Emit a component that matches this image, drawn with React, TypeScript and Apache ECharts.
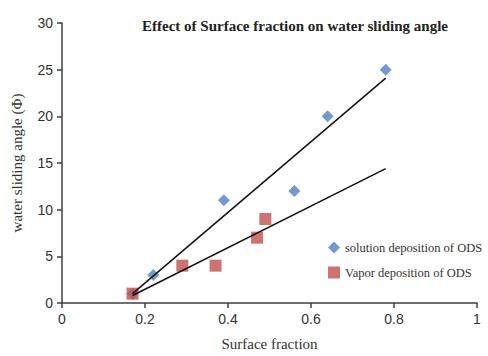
import React, { useEffect, useRef } from "react";
import * as echarts from "echarts";

const solutionPoints: [number, number][] = [
  [0.17, 1],
  [0.22, 3],
  [0.39, 11],
  [0.56, 12],
  [0.64, 20],
  [0.78, 25],
];
const vaporPoints: [number, number][] = [
  [0.17, 1],
  [0.29, 4],
  [0.37, 4],
  [0.47, 7],
  [0.49, 9],
];
const solutionTrend: [number, number][] = [
  [0.17, 1.0],
  [0.78, 24.1],
];
const vaporTrend: [number, number][] = [
  [0.17, 0.8],
  [0.78, 14.4],
];

const serif = "'Liberation Serif', 'Times New Roman', serif";
const sans = "'Liberation Sans', Arial, sans-serif";
const axisColor = "#404040";

export default function App() {
  const ref = useRef<HTMLDivElement>(null);
  useEffect(() => {
    if (!ref.current) return;
    const chart = echarts.init(ref.current, null, { renderer: "svg" });
    chart.setOption({
      animation: false,
      backgroundColor: "#ffffff",
      title: {
        text: "Effect of Surface fraction on water sliding angle",
        left: 290,
        textAlign: "center",
        top: 13,
        textStyle: { fontFamily: serif, fontSize: 15, fontWeight: "bold", color: "#222" },
      },
      grid: { left: 62, right: 11, top: 23, bottom: 49, containLabel: false },
      legend: {
        orient: "vertical",
        left: 323,
        top: 236,
        itemWidth: 12,
        itemHeight: 12,
        itemGap: 12,
        textStyle: { fontFamily: serif, fontSize: 12.5, color: "#333" },
        data: [
          { name: "solution deposition of ODS", icon: "diamond" },
          { name: "Vapor deposition of ODS", icon: "rect" },
        ],
      },
      xAxis: {
        type: "value",
        min: 0,
        max: 1,
        interval: 0.2,
        name: "Surface fraction",
        nameLocation: "middle",
        nameGap: 33,
        nameTextStyle: { fontFamily: serif, fontSize: 15, color: "#333" },
        axisLine: { show: true, lineStyle: { color: axisColor, width: 1.5 } },
        axisTick: { show: true, length: 5, lineStyle: { color: axisColor, width: 1.5 } },
        axisLabel: { fontFamily: sans, fontSize: 14, color: "#333", margin: 9 },
        splitLine: { show: false },
      },
      yAxis: {
        type: "value",
        min: 0,
        max: 30,
        interval: 5,
        name: "water sliding angle (Φ)",
        nameLocation: "middle",
        nameGap: 38,
        nameRotate: 90,
        nameTextStyle: { fontFamily: serif, fontSize: 15, color: "#333" },
        axisLine: { show: true, lineStyle: { color: axisColor, width: 1.5 } },
        axisTick: { show: true, length: 5, lineStyle: { color: axisColor, width: 1.5 } },
        axisLabel: { fontFamily: sans, fontSize: 14, color: "#333", margin: 9 },
        splitLine: { show: false },
      },
      series: [
        {
          name: "solution deposition of ODS",
          type: "scatter",
          symbol: "diamond",
          symbolSize: 12,
          itemStyle: { color: "#4F81BD" },
          data: solutionPoints,
          z: 3,
        },
        {
          name: "Vapor deposition of ODS",
          type: "scatter",
          symbol: "rect",
          symbolSize: 12,
          itemStyle: { color: "#C0504D" },
          data: vaporPoints,
          z: 4,
        },
        {
          name: "solutionTrend",
          type: "line",
          data: solutionTrend,
          symbol: "none",
          lineStyle: { color: "#111", width: 1.5 },
          z: 5,
          silent: true,
        },
        {
          name: "vaporTrend",
          type: "line",
          data: vaporTrend,
          symbol: "none",
          lineStyle: { color: "#111", width: 1.5 },
          z: 5,
          silent: true,
        },
      ],
    });
    return () => chart.dispose();
  }, []);
  return <div ref={ref} style={{ width: 488, height: 356, position: "fixed", left: 0, top: 0 }} />;
}
